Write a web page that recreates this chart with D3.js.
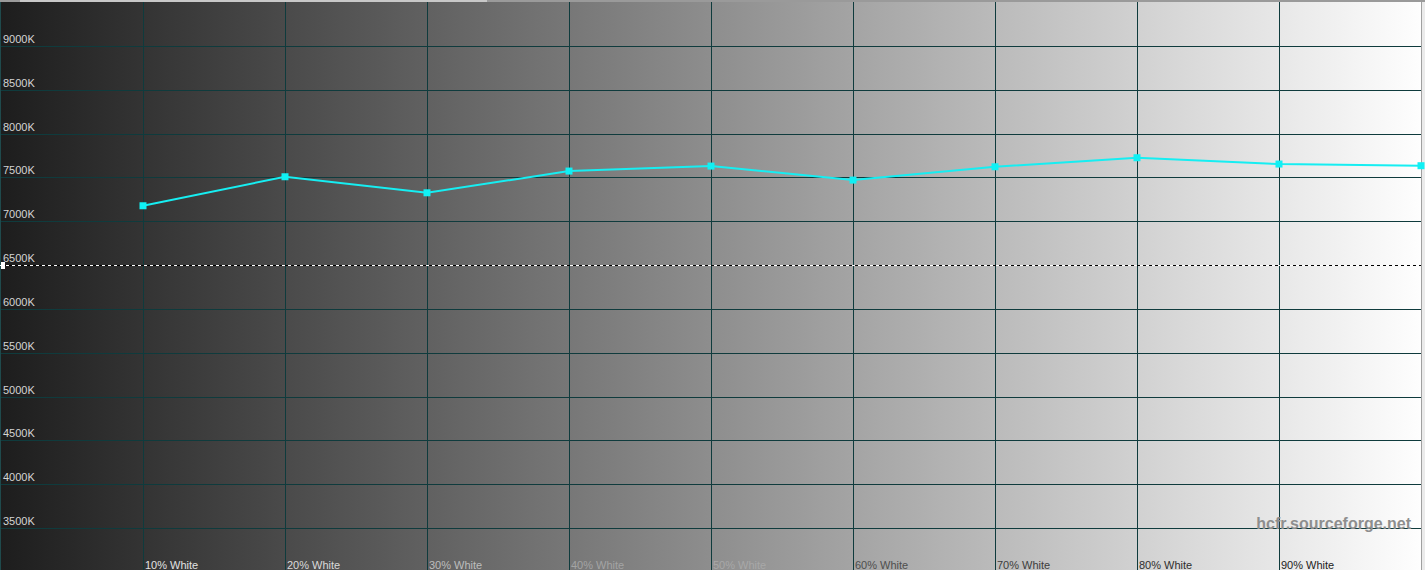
<!DOCTYPE html>
<html>
<head>
<meta charset="utf-8">
<script src="https://cdn.jsdelivr.net/npm/d3@7"></script>
<style>
  html, body { margin: 0; padding: 0; background: #ececec; }
  svg { display: block; }
</style>
</head>
<body>
<svg id="chart" width="1425" height="570"></svg>
<script>
// ---- data ----
const categories = ["10% White", "20% White", "30% White", "40% White", "50% White",
                    "60% White", "70% White", "80% White", "90% White", "100% White"];
const levels = [10, 20, 30, 40, 50, 60, 70, 80, 90, 100];
const colorTemp = [7177, 7508, 7325, 7573, 7630, 7470, 7622, 7725, 7653, 7634];
const yTicks = [3500, 4000, 4500, 5000, 5500, 6000, 6500, 7000, 7500, 8000, 8500, 9000];
const reference = 6500;
const watermark = "hcfr.sourceforge.net";

// ---- styles (kept apart from data) ----
const xLabelColors = ["#e2e2e2", "#dadada", "#bdbdbd", "#a4a4a4", "#a8a8a8",
                      "#4e4e4e", "#3c3c3c", "#2e2e2e", "#222222"];

const W = 1425, H = 570;
const left = 1, right = 1421;
const svg = d3.select("#chart");

const x = d3.scaleLinear().domain([0, 100]).range([left, right]);
const y = d3.scaleLinear().domain([3500, 9000]).range([528, 46]);

// background gradient
const defs = svg.append("defs");
const grad = defs.append("linearGradient").attr("id", "bg")
  .attr("gradientUnits", "userSpaceOnUse")
  .attr("x1", 0).attr("x2", right).attr("y1", 0).attr("y2", 0);
grad.append("stop").attr("offset", "0%").attr("stop-color", "#1d1d1d");
grad.append("stop").attr("offset", "100%").attr("stop-color", "#fefefe");

svg.append("rect").attr("x", 0).attr("y", 0).attr("width", right).attr("height", H)
  .attr("fill", "url(#bg)");

// window frame bits
svg.append("rect").attr("x", right).attr("y", 0).attr("width", W - right).attr("height", H)
  .attr("fill", "#ebebeb");
svg.append("line").attr("x1", right + 0.5).attr("x2", right + 0.5).attr("y1", 0).attr("y2", H)
  .attr("stroke", "#a0a0a0").attr("stroke-width", 1);
svg.append("rect").attr("x", 0).attr("y", 0).attr("width", W).attr("height", 2)
  .attr("fill", "#9a9a9a");
svg.append("rect").attr("x", 20).attr("y", 0).attr("width", 467).attr("height", 2)
  .attr("fill", "#c8c8c8");

const gridColor = "#0f3b3d";

// horizontal grid
svg.append("g").selectAll("line")
  .data(yTicks.filter(t => t !== reference))
  .join("line")
  .attr("x1", 0).attr("x2", right)
  .attr("y1", d => Math.round(y(d)) + 0.5).attr("y2", d => Math.round(y(d)) + 0.5)
  .attr("stroke", gridColor).attr("stroke-width", 1);

// vertical grid
svg.append("g").selectAll("line")
  .data(levels.slice(0, 9))
  .join("line")
  .attr("x1", d => Math.round(x(d)) + 0.5).attr("x2", d => Math.round(x(d)) + 0.5)
  .attr("y1", 2).attr("y2", H)
  .attr("stroke", gridColor).attr("stroke-width", 1);

// left border
svg.append("line").attr("x1", 0.5).attr("x2", 0.5).attr("y1", 2).attr("y2", H)
  .attr("stroke", "#1f4a4c").attr("stroke-width", 1);

// reference dashed line (white/black alternating)
const ry = Math.round(y(reference)) + 0.5;
svg.append("line").attr("x1", 0).attr("x2", right).attr("y1", ry).attr("y2", ry)
  .attr("stroke", "#ffffff").attr("stroke-width", 1).attr("stroke-dasharray", "3,3");
svg.append("line").attr("x1", 0).attr("x2", right).attr("y1", ry).attr("y2", ry)
  .attr("stroke", "#000000").attr("stroke-width", 1).attr("stroke-dasharray", "3,3")
  .attr("stroke-dashoffset", 3);
svg.append("rect").attr("x", 1).attr("y", ry - 3.5).attr("width", 4).attr("height", 7)
  .attr("fill", "#ffffff");

// y labels
svg.append("g").selectAll("text")
  .data(yTicks)
  .join("text")
  .attr("x", 3)
  .attr("y", d => Math.round(y(d)) - 3)
  .attr("font-family", "'Liberation Sans', Arial, sans-serif")
  .attr("font-size", 11)
  .attr("fill", "#d4d4d4")
  .text(d => d + "K");

// x labels
svg.append("g").selectAll("text")
  .data(categories.slice(0, 9))
  .join("text")
  .attr("x", (d, i) => Math.round(x(levels[i])) + 2)
  .attr("y", 569)
  .attr("font-family", "'Liberation Sans', Arial, sans-serif")
  .attr("font-size", 11)
  .attr("fill", (d, i) => xLabelColors[i])
  .text(d => d);

// data line
const line = d3.line().x((d, i) => x(levels[i])).y(d => y(d));
svg.append("path").datum(colorTemp)
  .attr("d", line)
  .attr("fill", "none")
  .attr("stroke", "#16eef2")
  .attr("stroke-width", 2);

svg.append("g").selectAll("rect")
  .data(colorTemp)
  .join("rect")
  .attr("x", (d, i) => x(levels[i]) - 3.5)
  .attr("y", d => y(d) - 3.5)
  .attr("width", 7).attr("height", 7)
  .attr("fill", "#10f0f4");

// watermark
svg.append("text")
  .attr("x", 1411).attr("y", 529)
  .attr("text-anchor", "end")
  .attr("font-family", "'Liberation Sans', Arial, sans-serif")
  .attr("font-size", 16).attr("font-weight", "bold")
  .attr("fill", "#8e8e8e")
  .text(watermark);
</script>
</body>
</html>
